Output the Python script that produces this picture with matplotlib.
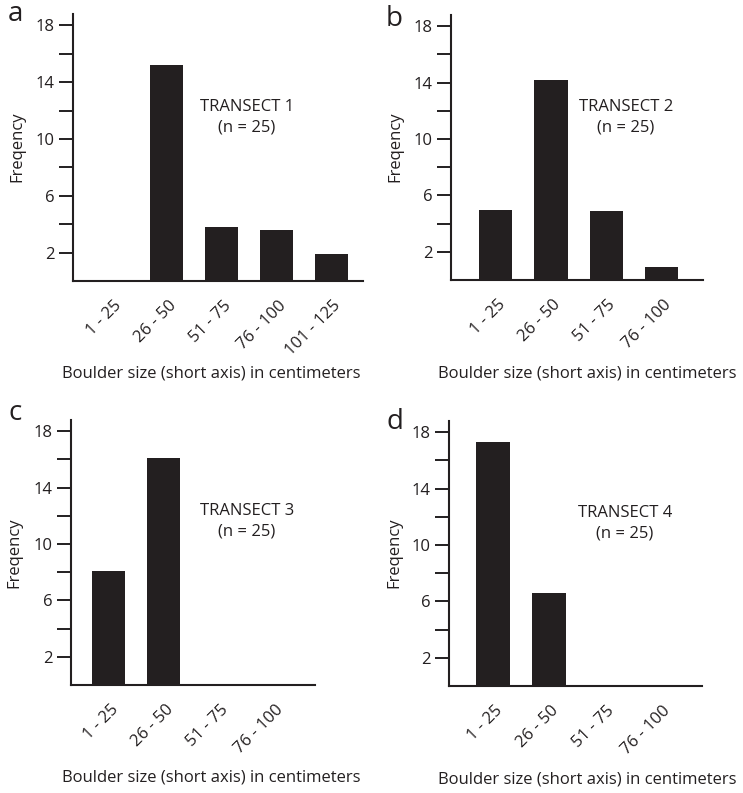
import matplotlib
matplotlib.use("Agg")
import matplotlib.pyplot as plt
from matplotlib.transforms import ScaledTranslation

plt.rcParams['font.family'] = ['Open Sans', 'DejaVu Sans']

INK = '#231f20'

# boulder size classes (cm, short axis)
bins_a = ['1 - 25', '26 - 50', '51 - 75', '76 - 100', '101 - 125']
bins_bcd = ['1 - 25', '26 - 50', '51 - 75', '76 - 100']

# frequency per size class for each transect
freq_1 = [0, 15.2, 3.8, 3.6, 1.9]
freq_2 = [5.0, 14.2, 4.9, 0.9]
freq_3 = [8.1, 16.1, 0, 0]
freq_4 = [17.3, 6.6, 0, 0]

transects = ['TRANSECT 1', 'TRANSECT 2', 'TRANSECT 3', 'TRANSECT 4']
n_obs = [25, 25, 25, 25]
letters = ['a', 'b', 'c', 'd']

W, H = 743, 793
fig = plt.figure(figsize=(W / 100, H / 100), dpi=100)


def box(l, t, r, b):
    return [l / W, 1 - b / H, (r - l) / W, (b - t) / H]


# panel boxes in pixels (left, top, right, bottom), x-limits and label spots
panels = [
    dict(rect=box(73, 14, 363, 281), xlim=(-0.71, 4.57), cats=bins_a, vals=freq_1,
         txt=(0.60, 0.614), letter=(8, 21), xlab=(211.5, 378), ylab=(25, 147)),
    dict(rect=box(451, 15, 703, 280), xlim=(-0.81, 3.75), cats=bins_bcd, vals=freq_2,
         txt=(0.694, 0.615), letter=(386, 26), xlab=(587.5, 378), ylab=(403, 147)),
    dict(rect=box(71, 420, 315, 685), xlim=(-0.69, 3.75), cats=bins_bcd, vals=freq_3,
         txt=(0.72, 0.619), letter=(8, 420), xlab=(211, 781), ylab=(22, 553)),
    dict(rect=box(449, 421, 702, 686), xlim=(-0.79, 3.73), cats=bins_bcd, vals=freq_4,
         txt=(0.696, 0.613), letter=(386, 429), xlab=(587, 783), ylab=(402, 553)),
]

for i, p in enumerate(panels):
    ax = fig.add_axes(p['rect'])
    x = list(range(len(p['cats'])))
    ax.bar(x, p['vals'], width=0.6, color=INK, edgecolor='none')

    ax.set_xlim(*p['xlim'])
    ax.set_ylim(0, 18.8)
    for s in ['top', 'right']:
        ax.spines[s].set_visible(False)
    for s in ['left', 'bottom']:
        ax.spines[s].set_linewidth(1.5)
        ax.spines[s].set_color(INK)

    ax.set_yticks([2, 6, 10, 14, 18])
    ax.set_yticks([4, 8, 12, 16], minor=True)
    ax.tick_params(axis='y', which='both', direction='out', length=10, width=1.4,
                   color=INK, labelsize=12, labelcolor=INK, pad=3)

    ax.set_xticks(x)
    ax.set_xticklabels(p['cats'], rotation=45, ha='right', va='center',
                       rotation_mode='anchor', fontsize=12, color=INK)
    ax.tick_params(axis='x', length=0, pad=16)
    shift = ScaledTranslation(7 / 100, 0, fig.dpi_scale_trans)
    for lab in ax.get_xticklabels():
        lab.set_transform(lab.get_transform() + shift)

    ax.set_ylabel('Freqency', fontsize=12, color=INK)
    ax.yaxis.set_label_coords(p['ylab'][0] / W, 1 - p['ylab'][1] / H,
                              transform=fig.transFigure)

    ax.set_xlabel('Boulder size (short axis) in centimeters', fontsize=12, color=INK)
    ax.xaxis.set_label_coords(p['xlab'][0] / W, 1 - p['xlab'][1] / H,
                              transform=fig.transFigure)
    ax.xaxis.label.set_verticalalignment('baseline')

    ax.text(p['txt'][0], p['txt'][1], f"{transects[i]}\n(n = {n_obs[i]})",
            transform=ax.transAxes, ha='center', va='center', fontsize=12,
            color=INK, linespacing=1.35)

    fig.text(p['letter'][0] / W, 1 - p['letter'][1] / H, letters[i],
             fontsize=20, color=INK, ha='left', va='baseline')

fig.savefig('out.png', dpi=100, facecolor='white')
